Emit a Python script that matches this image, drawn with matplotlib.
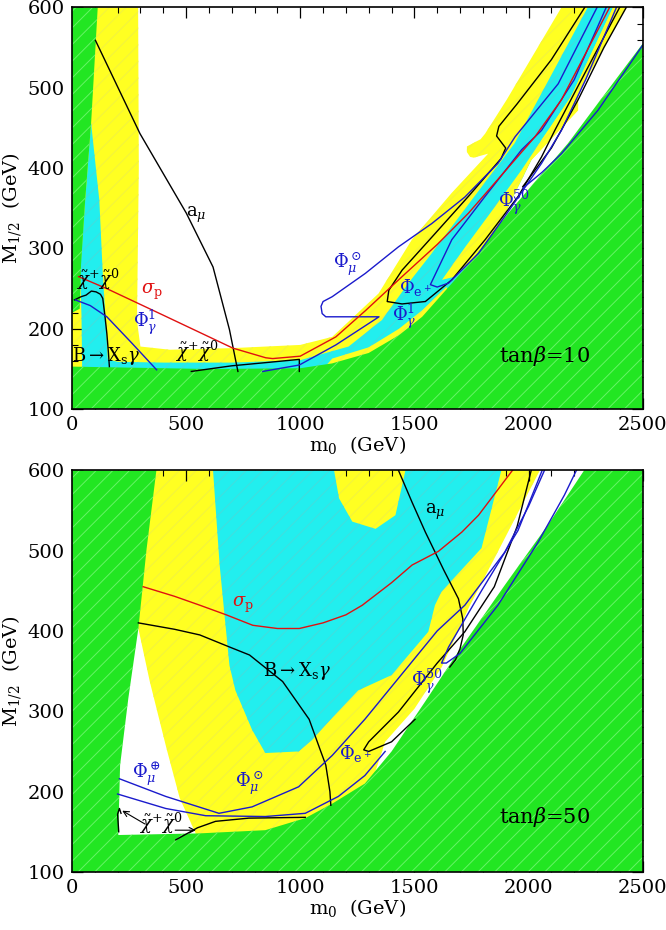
import numpy as np
import matplotlib.pyplot as plt
from matplotlib.ticker import MultipleLocator

plt.rcParams['font.family'] = ['DejaVu Serif']
plt.rcParams['mathtext.fontset'] = 'dejavuserif'
plt.rcParams['hatch.linewidth'] = 0.7

GREEN = '#22e622'
GREEN_H = '#66f566'
CYAN = '#22eeee'
CYAN_H = '#44dddd'
YELLOW = '#ffff22'
YELLOW_H = '#f2f240'
BLUE = '#1a1acc'
RED = '#e01010'

# ---------------- tan(beta) = 10 : regions (m0, M1/2) ----------------
green10_left = [(0, 600), (113, 600), (84, 456), (58, 360), (40, 280), (34, 225), (0, 220)]
green10_bot = [(0, 100), (2500, 100), (2500, 555), (2331, 491), (2173, 431), (1911, 344),
               (1737, 280), (1534, 215), (1432, 192), (1300, 170), (1140, 157), (1000, 151),
               (600, 150), (0, 153)]
yellow10 = [(0, 140), (0, 600), (290, 600), (293, 400), (285, 210), (300, 178), (429, 174),
            (700, 176), (1000, 180), (1140, 190), (1343, 244), (1489, 311), (1663, 369),
            (1823, 418), (1760, 413), (1744, 414), (1730, 420), (1730, 427), (1790, 436),
            (1810, 443), (1904, 485), (2144, 600), (2428, 600), (2217, 493), (2217, 472),
            (2012, 410), (1881, 340), (1900, 300), (1200, 140)]
cyan10 = [(45, 145), (42, 215), (36, 269), (58, 360), (84, 456), (120, 360), (135, 269),
          (150, 200), (157, 162), (200, 159), (400, 158), (700, 158), (1000, 161),
          (1212, 178), (1358, 211), (1474, 257), (1576, 294), (1750, 360), (1939, 431),
          (2259, 600), (2370, 600), (2186, 489), (2057, 435), (2012, 410), (1882, 335),
          (1900, 300), (1200, 140)]
yellow10_in = [(2370, 600), (2428, 600), (2217, 493), (2217, 472), (2012, 410), (1882, 335),
               (1781, 294), (1679, 265), (1621, 261), (1723, 302), (1853, 352), (1970, 398),
               (2057, 435), (2186, 489)]
yellow10_edge = [(1100, 150), (1140, 163), (1300, 177), (1432, 200), (1534, 223), (1640, 252),
                 (1660, 240), (1534, 205), (1432, 185), (1300, 163), (1140, 150)]

# ---------------- tan(beta) = 10 : contours ----------------
amu10 = [(103, 559), (298, 443), (501, 344), (618, 277), (690, 199), (727, 147)]
sigp10 = [(29, 265), (153, 250), (400, 217), (705, 176), (849, 164), (879, 163), (1000, 166),
          (1156, 190), (1287, 223), (1446, 265), (1600, 305), (1737, 344), (2028, 439),
          (2144, 485), (2355, 600)]
bxs10 = [(11, 236), (40, 240), (62, 242), (85, 247), (106, 246), (125, 243), (135, 238),
         (145, 215), (153, 194), (160, 170), (164, 153)]
chi10 = [(523, 147), (700, 154), (850, 158), (996, 162), (996, 147)]
phig1_10a = [(15, 236), (80, 229), (153, 215), (260, 183), (371, 149)]
phimu_10 = [(2300, 600), (2130, 505), (1941, 439), (1866, 406), (1721, 364), (1576, 331),
            (1430, 302), (1285, 269), (1140, 240), (1100, 234), (1091, 228), (1096, 219),
            (1112, 215), (1345, 215), (1156, 180), (996, 155), (836, 147)]
phig1_10b = [(2340, 600), (2200, 510), (2057, 447), (1970, 423), (1810, 365), (1664, 311),
             (1570, 255), (1600, 252), (1650, 257), (1781, 294), (1926, 352), (2057, 406),
             (2144, 447), (2250, 510), (2385, 600)]
phie_10 = [(2399, 600), (2250, 520), (2115, 447), (2057, 414), (1955, 365), (1810, 311),
           (1664, 261), (1548, 234), (1446, 231), (1381, 234), (1388, 248), (1446, 273),
           (1592, 319), (1737, 365), (1880, 412), (1900, 425), (1860, 440), (1870, 452),
           (1950, 480), (2100, 535), (2246, 600)]
blk10_g = [(1975, 377), (2100, 425), (2217, 485), (2330, 550), (2428, 600)]
phig50_10 = [(1975, 375), (2060, 395), (2144, 418), (2304, 472), (2435, 526), (2500, 553)]

# ---------------- tan(beta) = 50 : regions ----------------
green50 = [(0, 100), (2500, 100), (2500, 600), (2244, 600), (2085, 532), (1896, 457),
           (1692, 374), (1547, 312), (1400, 250), (1283, 210), (1140, 185), (1022, 167),
           (847, 152), (557, 148), (203, 146), (211, 233), (247, 316), (291, 403),
           (327, 502), (370, 600), (0, 600)]
yellow50 = [(370, 600), (2050, 600), (1950, 545), (1850, 490), (1740, 430), (1620, 355),
            (1500, 303), (1372, 262), (1300, 200), (1000, 150), (542, 140), (542, 148),
            (472, 192), (414, 254), (341, 337), (291, 403), (200, 420), (200, 600)]
cyan50 = [(618, 600), (1148, 600), (1170, 565), (1228, 536), (1330, 527), (1417, 544),
          (1461, 600), (1881, 600), (1794, 503), (1619, 449), (1590, 432), (1561, 399),
          (1400, 345), (1254, 326), (1140, 292), (1051, 264), (993, 250), (847, 248),
          (789, 277), (716, 326), (690, 357), (647, 482)]

# ---------------- tan(beta) = 50 : contours ----------------
amu50 = [(1430, 600), (1490, 560), (1548, 523), (1630, 475), (1693, 440), (1712, 415),
         (1714, 395), (1700, 378), (1680, 364), (1655, 355)]
sigp50 = [(312, 455), (450, 443), (560, 432), (676, 420), (792, 407), (900, 403), (996, 403),
          (1100, 410), (1200, 420), (1272, 432), (1400, 460), (1490, 482), (1605, 499),
          (1708, 523), (1781, 544), (1930, 600)]
bxs50 = [(291, 410), (450, 402), (560, 395), (690, 380), (778, 370), (923, 337), (1039, 290),
         (1090, 250), (1112, 233), (1130, 200), (1134, 183)]
chi50 = [(455, 140), (550, 155), (629, 163), (775, 167), (1022, 168)]
chi50_hook = [(205, 150), (200, 172), (208, 179), (215, 173)]
phimu_o50 = [(208, 216), (411, 194), (644, 173), (789, 181), (993, 206), (1140, 245),
             (1283, 290), (1430, 341), (1600, 400), (1721, 432), (1896, 498), (2000, 555),
             (2070, 600)]
phimu_p50 = [(200, 197), (411, 179), (586, 170), (847, 169), (1022, 173), (1167, 194),
             (1283, 220), (1372, 250)]
phie_50 = [(1503, 290), (1400, 262), (1300, 250), (1278, 252), (1300, 262), (1430, 299),
           (1600, 360), (1721, 399), (1850, 455), (1950, 530), (2012, 600)]
phig50_50 = [(2060, 600), (1954, 525), (1794, 450), (1650, 380), (1619, 360), (1640, 360),
             (1700, 372), (1866, 432), (2041, 510), (2157, 569), (2210, 600)]


def xy(pts):
    a = np.array(pts, dtype=float)
    return a[:, 0], a[:, 1]


def region(ax, pts, fc, hc, z):
    x, y = xy(pts)
    ax.fill(x, y, facecolor=fc, edgecolor=hc, hatch='//', linewidth=0, zorder=z)


def curve(ax, pts, c):
    x, y = xy(pts)
    ax.plot(x, y, color=c, lw=1.0, zorder=5, solid_joinstyle='round')


def setup(ax):
    ax.set_xlim(0, 2500)
    ax.set_ylim(100, 600)
    ax.xaxis.set_major_locator(MultipleLocator(500))
    ax.xaxis.set_minor_locator(MultipleLocator(100))
    ax.yaxis.set_major_locator(MultipleLocator(100))
    ax.yaxis.set_minor_locator(MultipleLocator(20))
    ax.tick_params(which='both', direction='in', top=True, right=True, labelsize=14)
    ax.tick_params(which='major', length=8, width=0.9, pad=5)
    ax.tick_params(which='minor', length=4, width=0.8)
    ax.set_xlabel(r'm$_0$  (GeV)', fontsize=14, labelpad=0)
    ax.set_ylabel(r'M$_{1/2}$  (GeV)', fontsize=14, labelpad=3)
    for s in ax.spines.values():
        s.set_linewidth(1.2)
        s.set_zorder(10)


fig = plt.figure(figsize=(6.66, 9.30), dpi=100)
ax1 = fig.add_axes([0.108, 0.560, 0.857, 0.432])
ax2 = fig.add_axes([0.108, 0.0624, 0.857, 0.432])

# top panel
region(ax1, yellow10, YELLOW, YELLOW_H, 1)
region(ax1, cyan10, CYAN, CYAN_H, 2)
region(ax1, yellow10_in, YELLOW, YELLOW_H, 3)
region(ax1, yellow10_edge, YELLOW, YELLOW_H, 3)
region(ax1, green10_left, GREEN, GREEN_H, 4)
region(ax1, green10_bot, GREEN, GREEN_H, 4)
for c, col in [(amu10, 'k'), (bxs10, 'k'), (chi10, 'k'), (phie_10, 'k'), (blk10_g, 'k'),
               (phig1_10a, BLUE), (phimu_10, BLUE), (phig1_10b, BLUE), (phig50_10, BLUE),
               (sigp10, RED)]:
    curve(ax1, c, col)
t = dict(fontsize=13, ha='center', va='center', zorder=8)
ax1.text(546, 342, r'a$_\mu$', color='k', **t)
ax1.text(349, 246, r'$\sigma_{\rm p}$', color=RED, **t)
ax1.text(320, 208, r'$\Phi_\gamma^1$', color=BLUE, **t)
ax1.text(115, 262, r'$\tilde{\chi}^{+}\tilde{\chi}^{0}$', color='k', **t)
ax1.text(545, 172, r'$\tilde{\chi}^{+}\tilde{\chi}^{0}$', color='k', **t)
ax1.text(150, 166, r'B$\rightarrow$X$_{\rm s}\gamma$', color='k', **t)
ax1.text(1205, 280, r'$\Phi_\mu^\odot$', color=BLUE, **t)
ax1.text(1505, 252, r'$\Phi_{\rm e^+}$', color=BLUE, **t)
ax1.text(1455, 215, r'$\Phi_\gamma^1$', color=BLUE, **t)
ax1.text(1935, 358, r'$\Phi_\gamma^{50}$', color=BLUE, **t)
ax1.text(2070, 166, r'tan$\beta$=10', color='k', fontsize=15, ha='center', va='center', zorder=8)
setup(ax1)

# bottom panel
region(ax2, yellow50, YELLOW, YELLOW_H, 1)
region(ax2, cyan50, CYAN, CYAN_H, 2)
region(ax2, green50, GREEN, GREEN_H, 4)
for c, col in [(amu50, 'k'), (bxs50, 'k'), (chi50, 'k'), (chi50_hook, 'k'), (phie_50, 'k'),
               (phimu_o50, BLUE), (phimu_p50, BLUE), (phig50_50, BLUE), (sigp50, RED)]:
    curve(ax2, c, col)
ax2.annotate('', xy=(210, 178), xytext=(330, 158),
             arrowprops=dict(arrowstyle='->', color='k', lw=0.8), zorder=8)
ax2.annotate('', xy=(555, 152), xytext=(440, 152),
             arrowprops=dict(arrowstyle='->', color='k', lw=0.8), zorder=8)
ax2.text(1590, 548, r'a$_\mu$', color='k', **t)
ax2.text(749, 432, r'$\sigma_{\rm p}$', color=RED, **t)
ax2.text(985, 350, r'B$\rightarrow$X$_{\rm s}\gamma$', color='k', **t)
ax2.text(327, 222, r'$\Phi_\mu^\oplus$', color=BLUE, **t)
ax2.text(778, 210, r'$\Phi_\mu^\odot$', color=BLUE, **t)
ax2.text(390, 160, r'$\tilde{\chi}^{+}\tilde{\chi}^{0}$', color='k', **t)
ax2.text(1241, 248, r'$\Phi_{\rm e^+}$', color=BLUE, **t)
ax2.text(1554, 337, r'$\Phi_\gamma^{50}$', color=BLUE, **t)
ax2.text(2070, 169, r'tan$\beta$=50', color='k', fontsize=15, ha='center', va='center', zorder=8)
setup(ax2)

fig.savefig('out.png', dpi=100)
